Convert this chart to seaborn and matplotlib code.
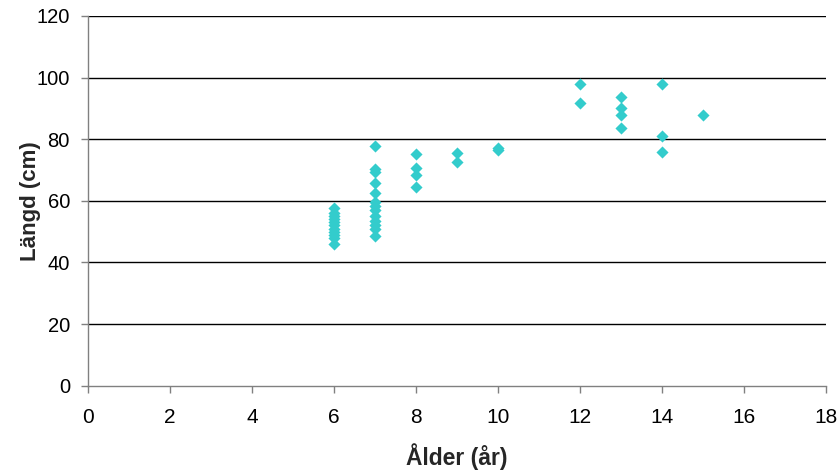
import matplotlib
matplotlib.use("Agg")
import matplotlib.pyplot as plt
import seaborn as sns
import pandas as pd

# Ages (years) and heights (cm) of the measured individuals
height_6 = [46.0, 48.0, 49.0, 50.0, 51.0, 52.0, 53.0, 54.0, 55.0, 56.0, 57.6]
age_6 = [6] * len(height_6)
height_7 = [48.6, 51.0, 52.0, 53.5, 55.0, 57.0, 58.3, 59.7, 62.5, 65.7, 69.3, 70.4, 77.8]
age_7 = [7] * len(height_7)
height_8 = [64.4, 68.5, 70.6, 75.1]
age_8 = [8] * len(height_8)
height_9 = [72.5, 75.5]
age_9 = [9] * len(height_9)
height_10 = [76.5, 77.0]
age_10 = [10] * len(height_10)
height_12 = [91.9, 97.9]
age_12 = [12] * len(height_12)
height_13 = [83.8, 87.9, 90.0, 93.8]
age_13 = [13] * len(height_13)
height_14 = [75.8, 81.2, 98.0]
age_14 = [14] * len(height_14)
height_15 = [87.9]
age_15 = [15] * len(height_15)

ages = age_6 + age_7 + age_8 + age_9 + age_10 + age_12 + age_13 + age_14 + age_15
heights = (height_6 + height_7 + height_8 + height_9 + height_10 + height_12
           + height_13 + height_14 + height_15)
df = pd.DataFrame({"Ålder": ages, "Längd": heights})

x_ticks = list(range(0, 19, 2))
y_ticks = list(range(0, 121, 20))

sns.set_style("white")
plt.rcParams["font.family"] = ["Liberation Sans", "DejaVu Sans"]

fig = plt.figure(figsize=(8.4, 4.74), dpi=100)
ax = fig.add_axes([88 / 840, 1 - 385.7 / 474, (826 - 88) / 840, (385.7 - 16) / 474])

sns.scatterplot(data=df, x="Ålder", y="Längd", ax=ax, marker="D", s=38,
                color="#33CCCC", edgecolor="#33CCCC", linewidth=0, zorder=3)

ax.set_xlim(0, 18)
ax.set_ylim(0, 120)
ax.set_xticks(x_ticks)
ax.set_yticks(y_ticks)
ax.set_xticklabels([str(v) for v in x_ticks], fontsize=15)
ax.set_yticklabels([str(v) for v in y_ticks], fontsize=14.5)

for v in y_ticks[1:]:
    ax.axhline(v, color="black", linewidth=1.0, zorder=1)

for side in ("top", "right"):
    ax.spines[side].set_visible(False)
for side in ("left", "bottom"):
    ax.spines[side].set_color("#808080")
    ax.spines[side].set_linewidth(1.0)

ax.tick_params(axis="both", direction="out", length=5, width=1, color="#808080",
               labelcolor="black", bottom=True, left=True)
ax.tick_params(axis="x", pad=11)
ax.tick_params(axis="y", pad=8)

ax.set_xlabel("Ålder (år)", fontsize=16.5, fontweight="bold", va="center")
ax.xaxis.set_label_coords(0.5, -(457 - 385.7) / (385.7 - 16))
ax.set_ylabel("Längd (cm)", fontsize=16, fontweight="bold", va="center")
ax.yaxis.set_label_coords(-0.078, 0.5)

fig.savefig("out.png", dpi=100)
